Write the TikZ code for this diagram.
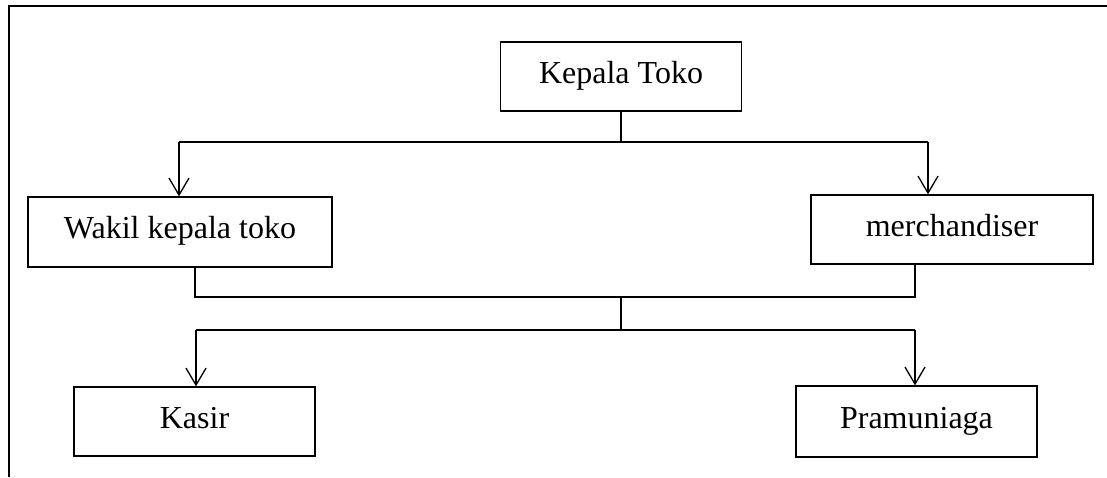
\documentclass[tikz,border=0pt]{standalone}
\usepackage{fontspec}
\setmainfont{Liberation Serif}
\usetikzlibrary{arrows.meta}
\begin{document}
\begin{tikzpicture}[x=1pt,y=-1pt,
  box/.style={draw,line width=1.3pt,inner sep=0pt,text height=21pt,text depth=8pt,
    font=\fontsize{32}{36}\selectfont},
  conn/.style={line width=1.3pt},
  arr/.style={conn,-{Straight Barb[length=17pt,width=20pt,line width=1.3pt]}}]
\useasboundingbox (0,0) rectangle (1107,477);
% frame
\draw[line width=1.4pt] (9,477) -- (9,6) -- (1107,6);
% nodes
\node[box,minimum width=241pt,minimum height=69pt] (kepala) at (621,76.5) {Kepala Toko};
\node[box,minimum width=304pt,minimum height=70pt] (wakil) at (180,232) {Wakil kepala toko};
\node[box,minimum width=282pt,minimum height=69pt] (merch) at (952,229.5) {merchandiser};
\node[box,minimum width=241pt,minimum height=69pt] (kasir) at (194.5,421.5) {Kasir};
\node[box,minimum width=241pt,minimum height=71pt] (pram) at (916.5,421.5) {Pramuniaga};
% junction coordinates
\coordinate (j1) at (621,142);
\coordinate (ja) at (179,142);
\coordinate (jb) at (928,142);
\coordinate (ws) at (195,267);
\coordinate (ms) at (915,264);
\coordinate (j2) at (621,297);
\coordinate (j3) at (621,330);
\coordinate (ka) at (196,330);
\coordinate (pa) at (915,330);
% connectors
\draw[conn] (kepala.south) -- (j1);
\draw[conn] (ja) -- (jb);
\draw[arr] (ja) -- (ja |- wakil.north);
\draw[arr] (jb) -- (jb |- merch.north);
\draw[conn] (ws) -- (ws |- j2) -- (ms |- j2) -- (ms);
\draw[conn] (j2) -- (j3);
\draw[conn] (ka) -- (pa);
\draw[arr] (ka) -- (ka |- kasir.north);
\draw[arr] (pa) -- (pa |- pram.north);
\end{tikzpicture}
\end{document}
